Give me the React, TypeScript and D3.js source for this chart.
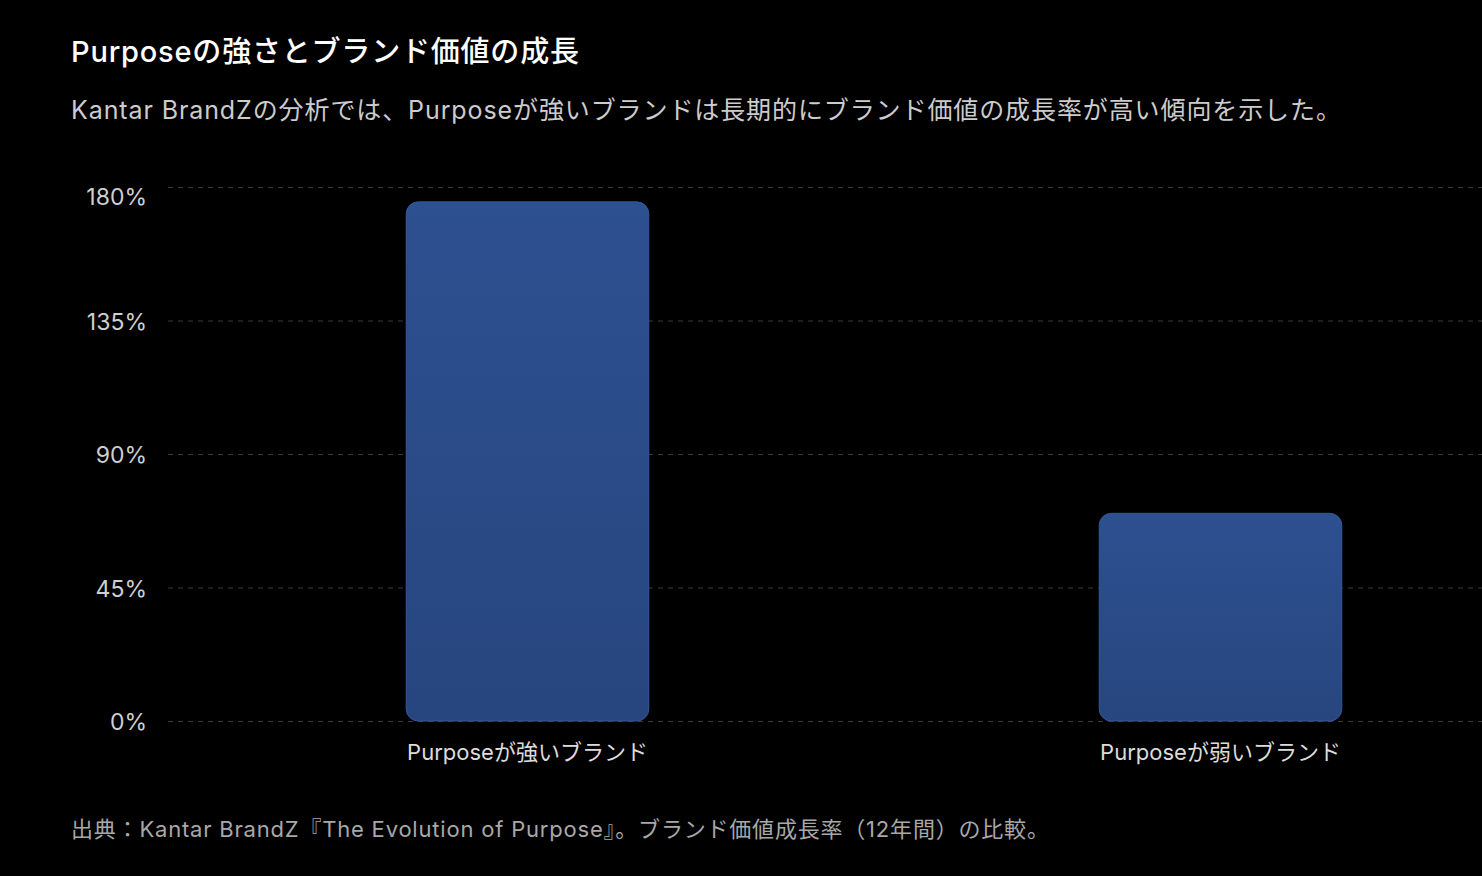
import { useEffect, useRef } from "react";
import * as d3 from "d3";

const categories = ["Purposeが強いブランド", "Purposeが弱いブランド"];
const growth = [175, 70];
const yTicks = [0, 45, 90, 135, 180];

const title = "Purposeの強さとブランド価値の成長";
const subtitle =
  "Kantar BrandZの分析では、Purposeが強いブランドは長期的にブランド価値の成長率が高い傾向を示した。";
const source =
  "出典：Kantar BrandZ『The Evolution of Purpose』。ブランド価値成長率（12年間）の比較。";

const FONT = "Inter, 'Noto Sans CJK JP', 'Noto Sans', sans-serif";

export default function App() {
  const svgRef = useRef<SVGSVGElement | null>(null);

  useEffect(() => {
    if (!svgRef.current) return;
    const svg = d3.select(svgRef.current);
    svg.selectAll("*").remove();

    const width = 1482;
    const height = 876;

    svg.attr("width", width).attr("height", height).style("display", "block");

    svg.append("rect").attr("width", width).attr("height", height).attr("fill", "#000");

    // bar gradient, a touch lighter at the top
    const defs = svg.append("defs");
    const grad = defs
      .append("linearGradient")
      .attr("id", "barGrad")
      .attr("x1", 0)
      .attr("y1", 0)
      .attr("x2", 0)
      .attr("y2", 1);
    grad.append("stop").attr("offset", "0%").attr("stop-color", "#2d5090");
    grad.append("stop").attr("offset", "100%").attr("stop-color", "#27467f");

    const y = d3.scaleLinear().domain([0, 180]).range([721, 187]);
    const x = d3.scalePoint<string>().domain(categories).range([181, 1567]).padding(0.5);
    const barW = x.step() * 0.35;

    // grid
    svg
      .append("g")
      .selectAll("line")
      .data(yTicks)
      .enter()
      .append("line")
      .attr("x1", 168)
      .attr("x2", width)
      .attr("y1", (d) => y(d) + 0.5)
      .attr("y2", (d) => y(d) + 0.5)
      .attr("stroke", "#3a3a3a")
      .attr("stroke-width", 1.2)
      .attr("stroke-dasharray", "5,5");

    // y labels (top one kept inside the plot)
    const topY = y.range()[1];
    svg
      .append("g")
      .selectAll("text")
      .data(yTicks)
      .enter()
      .append("text")
      .attr("x", 147)
      .attr("y", (d) => Math.max(y(d) + 9, topY + 18))
      .attr("text-anchor", "end")
      .attr("fill", "#cfcfcf")
      .style("font-family", FONT)
      .style("font-size", "23px")
      .text((d) => `${d}%`);

    // bars
    svg
      .append("g")
      .selectAll("rect")
      .data(growth)
      .enter()
      .append("rect")
      .attr("x", (_, i) => (x(categories[i]) as number) - barW / 2)
      .attr("y", (d) => y(d))
      .attr("width", barW)
      .attr("height", (d) => y(0) - y(d))
      .attr("rx", 12)
      .attr("ry", 12)
      .attr("fill", "url(#barGrad)")
      .attr("stroke", "#34589a")
      .attr("stroke-width", 1);

    // category labels
    svg
      .append("g")
      .selectAll("text")
      .data(categories)
      .enter()
      .append("text")
      .attr("x", (d) => x(d) as number)
      .attr("y", 760)
      .attr("text-anchor", "middle")
      .attr("fill", "#dcdcdc")
      .style("font-family", FONT)
      .style("font-size", "22px")
      .text((d) => d);

    svg
      .append("text")
      .attr("x", 71)
      .attr("y", 62)
      .attr("fill", "#ffffff")
      .style("font-family", FONT)
      .style("font-size", "29px")
      .style("font-weight", 500)
      .style("letter-spacing", "0.8px")
      .text(title);

    svg
      .append("text")
      .attr("x", 71)
      .attr("y", 119)
      .attr("fill", "#cccccc")
      .style("font-family", FONT)
      .style("font-size", "25px")
      .style("letter-spacing", "0.9px")
      .text(subtitle);

    svg
      .append("text")
      .attr("x", 71)
      .attr("y", 837)
      .attr("fill", "#a8a8a8")
      .style("font-family", FONT)
      .style("font-size", "22px")
      .style("letter-spacing", "0.8px")
      .text(source);
  }, []);

  return (
    <div style={{ position: "fixed", left: 0, top: 0, width: 1482, height: 876, overflow: "hidden", background: "#000" }}>
      <svg ref={svgRef}></svg>
    </div>
  );
}
